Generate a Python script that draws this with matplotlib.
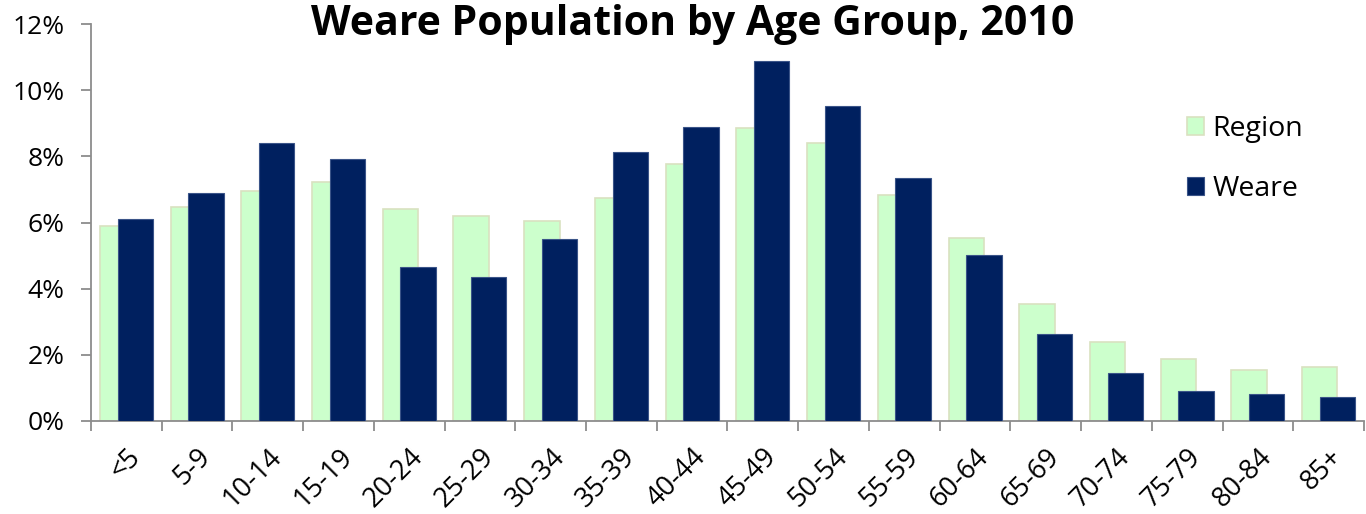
import numpy as np
import matplotlib.pyplot as plt
from matplotlib.ticker import FuncFormatter, FixedLocator

plt.rcParams['font.family'] = ['Open Sans', 'DejaVu Sans']

age_groups = ['<5', '5-9', '10-14', '15-19', '20-24', '25-29', '30-34', '35-39',
              '40-44', '45-49', '50-54', '55-59', '60-64', '65-69', '70-74',
              '75-79', '80-84', '85+']
region = [5.90, 6.46, 6.95, 7.22, 6.40, 6.20, 6.05, 6.73, 7.78, 8.87, 8.39,
          6.83, 5.54, 3.55, 2.40, 1.87, 1.55, 1.62]
weare = [6.10, 6.89, 8.39, 7.91, 4.65, 4.34, 5.49, 8.12, 8.89, 10.88, 9.52,
         7.35, 5.01, 2.63, 1.45, 0.92, 0.81, 0.73]

x = np.arange(len(age_groups))
axis_grey = '#8c8c8c'

fig = plt.figure(figsize=(13.66, 5.14), dpi=100)
ax = fig.add_axes([91 / 1366, 1 - 421 / 514, 1273 / 1366, 397 / 514])

ax.bar(x - 0.125, region, width=0.5, color='#ccffcc', edgecolor='#d9e2c0',
       linewidth=1.2, label='Region', zorder=2)
ax.bar(x + 0.125, weare, width=0.5, color='#00205f', edgecolor='#3a5488',
       linewidth=0.8, label='Weare', zorder=3)

ax.set_xlim(-0.5, len(age_groups) - 0.5)
ax.set_ylim(0, 12)
ax.set_yticks(np.arange(0, 13, 2))
ax.yaxis.set_major_formatter(FuncFormatter(lambda v, p: f'{v:.0f}%'))

ax.set_xticks(x)
ax.set_xticklabels(age_groups, rotation=45, ha='right', rotation_mode='anchor')
ax.xaxis.set_minor_locator(FixedLocator(np.arange(-0.5, len(age_groups), 1)))
ax.tick_params(axis='x', which='major', length=0, pad=16, labelsize=19.5)
ax.tick_params(axis='x', which='minor', length=7, width=1.3, color=axis_grey)
ax.tick_params(axis='y', length=7, width=1.3, color=axis_grey, pad=12,
               labelsize=19)

for side in ['top', 'right']:
    ax.spines[side].set_visible(False)
for side in ['left', 'bottom']:
    ax.spines[side].set_color(axis_grey)
    ax.spines[side].set_linewidth(1.3)

fig.text(0.507, 0.953, 'Weare Population by Age Group, 2010', ha='center',
         va='center', fontsize=29.5, fontweight='bold')

ax.legend(loc='upper left', bbox_to_anchor=(0.861, 0.77), frameon=False,
          fontsize=20.5, handlelength=0.6, handleheight=0.6, handletextpad=0.3,
          labelspacing=1.1, borderpad=0, borderaxespad=0)

plt.savefig('out.png', dpi=100)
